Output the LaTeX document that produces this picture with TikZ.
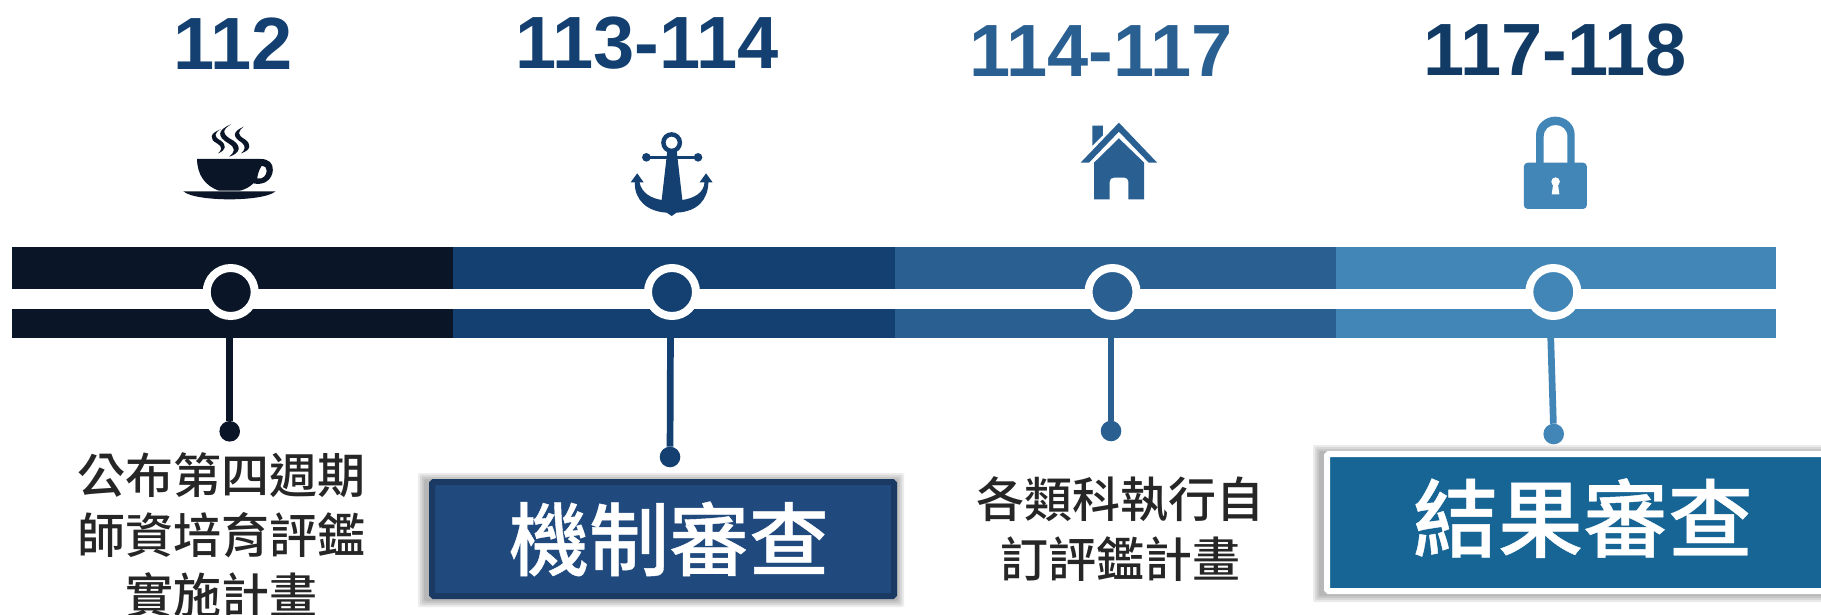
\documentclass[tikz,border=0pt]{standalone}
\usepackage{fontspec}
\setmainfont{Liberation Sans}
\newfontfamily\cjkfont{Noto Sans CJK TC Medium}
\newfontfamily\cjkboxfont[FakeBold=0.5]{Noto Sans CJK TC Medium}
\definecolor{cA}{HTML}{0A1627}
\definecolor{cB}{HTML}{134070}
\definecolor{cC}{HTML}{2A5F91}
\definecolor{cD}{HTML}{4285B7}
\definecolor{boxA}{HTML}{204A7E}
\definecolor{boxAedge}{HTML}{1B3A63}
\definecolor{boxB}{HTML}{166594}
\tikzset{
  yearlabel/.style={font=\fontsize{74}{74}\selectfont\bfseries,inner sep=0pt,anchor=center},
  bodytext/.style={font=\fontsize{48}{60}\selectfont\cjkfont,text=black!85,align=center,inner sep=0pt,anchor=center},
  ring/.style={circle,draw=white,line width=8pt,minimum size=48pt,inner sep=0pt,outer sep=0pt},
  enddot/.style={circle,inner sep=0pt,outer sep=0pt,minimum size=20.6pt},
  stem/.style={line width=6.7pt},
  softshadow/.style={fill=black,opacity=.08,rounded corners=2pt},
  boxnode/.style={line width=6pt,inner sep=0pt,outer sep=0pt,text=white,rounded corners=1.5pt},
  icon/.style={x=0.3827pt,y=-0.33333pt},
}
\newcommand{\softbox}[4]{%
  \foreach \d in {8,6,4,2}{\fill[softshadow] (#1-\d-3,#2-\d+2) rectangle (#3+\d-1,#4+\d);}}
\begin{document}
\begin{tikzpicture}[x=1pt,y=-1pt]
\useasboundingbox (0,0) rectangle (1821,615);
\fill[white] (0,0) rectangle (1821,615);
% bands
\fill[cA] (12,247) rectangle (453,338);
\fill[cB] (453,247) rectangle (894.5,338);
\fill[cC] (894.5,247) rectangle (1336,338);
\fill[cD] (1336,247) rectangle (1776,338);
\fill[white] (12,289) rectangle (1776,309);
% years
\node[yearlabel,text=cB] (y1) at (233,44) {112};
\node[yearlabel,text=cB] (y2) at (647,43) {113-114};
\node[yearlabel,text=cC] (y3) at (1101,51) {114-117};
\node[yearlabel,text=cB!90!black] (y4) at (1555,50) {117-118};
% circles
\node[ring,fill=cA] (c1) at (230.7,292) {};
\node[ring,fill=cB] (c2) at (672,292) {};
\node[ring,fill=cC] (c3) at (1112.5,292) {};
\node[ring,fill=cD] (c4) at (1553.3,292) {};
% dots
\node[enddot,fill=cA] (d1) at (229.7,431.3) {};
\node[enddot,fill=cB] (d2) at (670,457) {};
\node[enddot,fill=cC] (d3) at (1111,431) {};
\node[enddot,fill=cD] (d4) at (1553.7,434) {};
\coordinate (t1) at (229.7,330);
\coordinate (t2) at (670.5,330);
\coordinate (t3) at (1111,330);
\coordinate (t4) at (1550.5,330);
\draw[stem,cA] (t1) -- (d1);
\draw[stem,cB] (t2) -- (d2);
\draw[stem,cC] (t3) -- (d3);
\draw[stem,cD] (t4) -- (d4);
% texts
\node[bodytext] (n1) at (221,535) {公布第四週期\\師資培育評鑑\\實施計畫};
\node[bodytext] (n3) at (1120,529) {各類科執行自\\訂評鑑計畫};
% boxes
\softbox{429}{479}{897}{599}
\node[boxnode,draw=boxAedge,fill=boxA,minimum width=462pt,minimum height=114pt,font=\fontsize{80}{80}\selectfont\cjkboxfont] (b2) at (663,539) {\hspace*{12pt}機制審查};
\softbox{1324}{451}{1860}{594}
\node[boxnode,draw=white,fill=boxB,minimum width=530pt,minimum height=137pt,font=\fontsize{85}{85}\selectfont\cjkboxfont] (b4) at (1592,522.5) {\raisebox{16pt}{結果審查}\hspace*{18pt}};
% cup
\begin{scope}[shift={(150,100)},icon]
\fill[cA] (123,177) -- (290,177) .. controls (310,177) and (322,190) .. (321,210) .. controls (320,238) and (298,258) .. (270,250) .. controls (260,262) and (248,268) .. (235,272) -- (180,272) .. controls (145,258) and (123,225) .. (123,177) -- cycle
 (292,197) .. controls (282,215) and (282,225) .. (280,235) .. controls (295,240) and (305,225) .. (305,212) .. controls (305,203) and (300,197) .. (292,197) -- cycle;
\fill[cA] (87,274) -- (328,274) .. controls (310,292) and (250,298) .. (208,298) .. controls (165,298) and (105,292) .. (87,274) -- cycle;
\fill[cA] (212,73) .. controls (175,90) and (175,110) .. (205,130) .. controls (225,145) and (222,155) .. (207,170) .. controls (235,160) and (240,140) .. (218,122) .. controls (190,105) and (185,90) .. (212,73) -- cycle;
\fill[cA] (185,88) .. controls (155,100) and (155,118) .. (175,130) .. controls (190,140) and (188,150) .. (178,160) .. controls (200,150) and (200,135) .. (185,122) .. controls (165,110) and (168,98) .. (185,88) -- cycle;
\fill[cA] (245,80) .. controls (215,95) and (215,110) .. (240,128) .. controls (250,137) and (250,150) .. (238,160) .. controls (265,150) and (265,132) .. (248,118) .. controls (228,105) and (228,95) .. (245,80) -- cycle;
% anchor
\fill[cB,even odd rule] (1363,128) circle[radius=10.5pt] (1363,128) circle[radius=6pt];
\fill[cB] (1297,168) rectangle (1432,177);
\fill[cB] (1297,172) circle[radius=4.3pt] (1432,172) circle[radius=4.3pt];
\fill[cB] (1352,150) -- (1376,150) -- (1391,300) -- (1337,300) -- cycle;
\fill[cB] (1273,220) -- (1290,247) -- (1279,247) .. controls (1285,280) and (1310,295) .. (1337,300) -- (1391,300) .. controls (1420,295) and (1447,280) .. (1449,247) -- (1436,247) -- (1453,220) -- (1470,247) -- (1459,247) .. controls (1458,300) and (1430,335) .. (1376,338) -- (1363,348) -- (1350,338) .. controls (1300,335) and (1265,300) .. (1267,247) -- (1256,247) -- cycle;
\end{scope}
% house and lock
\begin{scope}[shift={(1050,100)},icon]
\fill[cC] (180,68) -- (280,188) -- (258,188) -- (180,95) -- (102,188) -- (80,188) -- cycle;
\fill[cC] (111,77) -- (138,77) -- (138,106) -- (111,137) -- cycle;
\fill[cC] (180,115) -- (246,188) -- (246,298) -- (205,298) -- (205,245) .. controls (205,238) and (200,233) .. (195,233) -- (167,233) .. controls (160,233) and (156,238) .. (156,245) -- (156,298) -- (115,298) -- (115,188) -- cycle;
\fill[cD] (1270,190) -- (1270,105) .. controls (1270,72) and (1295,50) .. (1320,50) .. controls (1347,50) and (1371,72) .. (1371,105) -- (1371,190) -- (1352,190) -- (1352,110) .. controls (1352,88) and (1338,75) .. (1321,75) .. controls (1304,75) and (1290,88) .. (1290,110) -- (1290,190) -- cycle;
\fill[cD,rounded corners=4pt] (1238,188) rectangle (1403,327);
\fill[white] (1321,245) circle[radius=4.3pt];
\fill[white] (1315,250) -- (1327,250) -- (1331,283) -- (1311,283) -- cycle;
\end{scope}
\end{tikzpicture}
\end{document}
